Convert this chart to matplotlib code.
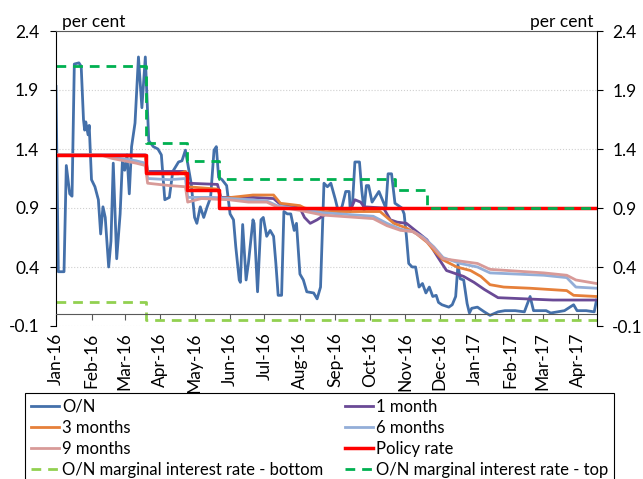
import pandas as pd
import matplotlib
matplotlib.use("Agg")
import matplotlib.pyplot as plt
import matplotlib.dates as mdates

plt.rcParams['font.family'] = ['Lato', 'DejaVu Sans']

# overnight rate
on_dates = ['2016-01-04', '2016-01-06', '2016-01-11', '2016-01-13', '2016-01-15', '2016-01-16', '2016-01-18',
            '2016-01-20', '2016-01-24', '2016-01-26', '2016-01-28', '2016-01-29', '2016-01-30', '2016-02-01',
            '2016-02-02', '2016-02-04', '2016-02-07', '2016-02-10', '2016-02-12', '2016-02-14', '2016-02-16',
            '2016-02-19', '2016-02-21', '2016-02-23', '2016-02-26', '2016-02-29', '2016-03-02', '2016-03-04',
            '2016-03-06', '2016-03-08', '2016-03-10', '2016-03-13', '2016-03-16', '2016-03-19', '2016-03-22',
            '2016-03-25', '2016-03-29', '2016-04-02', '2016-04-05', '2016-04-08', '2016-04-12', '2016-04-15',
            '2016-04-20', '2016-04-23', '2016-04-26', '2016-05-01', '2016-05-04', '2016-05-06', '2016-05-09',
            '2016-05-12', '2016-05-15', '2016-05-18', '2016-05-21', '2016-05-23', '2016-05-25', '2016-05-28',
            '2016-06-01', '2016-06-04', '2016-06-07', '2016-06-09', '2016-06-12', '2016-06-13', '2016-06-15',
            '2016-06-18', '2016-06-20', '2016-06-24', '2016-06-25', '2016-06-28', '2016-07-01', '2016-07-03',
            '2016-07-06', '2016-07-09', '2016-07-12', '2016-07-14', '2016-07-16', '2016-07-19', '2016-07-21',
            '2016-07-24', '2016-07-27', '2016-07-30', '2016-08-01', '2016-08-04', '2016-08-07', '2016-08-10',
            '2016-08-16', '2016-08-19', '2016-08-22', '2016-08-25', '2016-08-28', '2016-08-31', '2016-09-04',
            '2016-09-07', '2016-09-10', '2016-09-13', '2016-09-16', '2016-09-17', '2016-09-19', '2016-09-21',
            '2016-09-25', '2016-09-27', '2016-09-29', '2016-10-01', '2016-10-03', '2016-10-06', '2016-10-12',
            '2016-10-15', '2016-10-18', '2016-10-20', '2016-10-23', '2016-10-26', '2016-11-01', '2016-11-03',
            '2016-11-05', '2016-11-07', '2016-11-10', '2016-11-13', '2016-11-16', '2016-11-19', '2016-11-22',
            '2016-11-25', '2016-11-28', '2016-12-01', '2016-12-03', '2016-12-06', '2016-12-12', '2016-12-15',
            '2016-12-18', '2016-12-20', '2016-12-22', '2016-12-25', '2016-12-28', '2016-12-30', '2017-01-01',
            '2017-01-06', '2017-01-12', '2017-01-17', '2017-01-24', '2017-01-30', '2017-02-08', '2017-02-16',
            '2017-02-21', '2017-02-24', '2017-03-07', '2017-03-11', '2017-03-23', '2017-03-31', '2017-04-03',
            '2017-04-11', '2017-04-18', '2017-04-20']
on_values = [1.93, 0.36, 0.36, 1.26, 1.10, 1.02, 1.00,
             2.12, 2.13, 2.10, 1.65, 1.56, 1.63, 1.52,
             1.60, 1.14, 1.08, 0.97, 0.68, 0.91, 0.82,
             0.40, 0.62, 1.28, 0.47, 0.85, 1.30, 1.22,
             1.35, 1.02, 1.42, 1.62, 2.18, 1.75, 2.18,
             1.47, 1.42, 1.40, 1.35, 0.97, 0.99, 1.21,
             1.29, 1.30, 1.39, 1.11, 0.82, 0.77, 0.91,
             0.82, 0.91, 0.99, 1.39, 1.42, 1.16, 1.14,
             1.09, 0.85, 0.80, 0.57, 0.29, 0.27, 0.76,
             0.29, 0.43, 0.80, 0.77, 0.19, 0.80, 0.82,
             0.66, 0.71, 0.66, 0.43, 0.16, 0.16, 0.87,
             0.85, 0.85, 0.71, 0.77, 0.34, 0.29, 0.19,
             0.18, 0.13, 0.23, 1.11, 1.08, 1.11, 0.97,
             0.85, 0.92, 1.04, 1.04, 0.87, 0.95, 1.29,
             1.29, 1.05, 0.88, 1.09, 1.09, 0.95, 1.04,
             0.97, 0.90, 1.19, 1.19, 0.94, 0.90, 0.85,
             0.66, 0.43, 0.40, 0.40, 0.23, 0.26, 0.18,
             0.23, 0.15, 0.16, 0.10, 0.08, 0.06, 0.08,
             0.15, 0.42, 0.30, 0.29, 0.09, 0.01, 0.05,
             0.06, 0.02, -0.01, 0.02, 0.03, 0.03, 0.02,
             0.15, 0.03, 0.03, 0.01, 0.03, 0.08, 0.03,
             0.03, 0.02, 0.12]

m1_dates = ['2016-01-04', '2016-03-22', '2016-03-24', '2016-04-26', '2016-04-28', '2016-05-24', '2016-05-27',
            '2016-06-24', '2016-07-12', '2016-07-18', '2016-08-04', '2016-08-08', '2016-08-13', '2016-08-19',
            '2016-08-30', '2016-09-17', '2016-09-21', '2016-09-26', '2016-09-29', '2016-10-16', '2016-10-22',
            '2016-10-28', '2016-11-05', '2016-11-14', '2016-11-23', '2016-12-02', '2016-12-10', '2016-12-25',
            '2017-01-03', '2017-01-12', '2017-01-24', '2017-03-13', '2017-04-20']
m1_values = [1.35, 1.35, 1.21, 1.21, 1.11, 1.10, 0.99,
             0.99, 0.98, 0.93, 0.90, 0.82, 0.77, 0.80,
             0.87, 0.88, 0.97, 0.95, 0.91, 0.90, 0.80,
             0.78, 0.77, 0.70, 0.63, 0.49, 0.37, 0.32,
             0.27, 0.21, 0.14, 0.12, 0.12]

m3_dates = ['2016-01-04', '2016-03-22', '2016-03-24', '2016-04-20', '2016-04-26', '2016-04-28', '2016-05-24',
            '2016-05-27', '2016-06-24', '2016-07-12', '2016-07-18', '2016-08-04', '2016-08-08', '2016-08-24',
            '2016-10-13', '2016-10-19', '2016-10-25', '2016-11-05', '2016-11-14', '2016-11-23', '2016-11-29',
            '2016-12-07', '2016-12-19', '2016-12-31', '2017-01-09', '2017-01-17', '2017-01-29', '2017-02-21',
            '2017-03-25', '2017-03-31', '2017-04-20']
m3_values = [1.35, 1.34, 1.19, 1.19, 1.21, 1.08, 1.06,
             0.98, 1.01, 1.01, 0.94, 0.92, 0.90, 0.87,
             0.87, 0.82, 0.77, 0.73, 0.68, 0.61, 0.54,
             0.46, 0.40, 0.37, 0.32, 0.25, 0.23, 0.22,
             0.20, 0.16, 0.15]

m6_dates = ['2016-01-04', '2016-02-12', '2016-02-22', '2016-03-14', '2016-03-22', '2016-03-24', '2016-04-12',
            '2016-04-26', '2016-04-28', '2016-05-20', '2016-06-20', '2016-07-06', '2016-07-15', '2016-08-04',
            '2016-08-24', '2016-10-07', '2016-10-19', '2016-10-31', '2016-11-11', '2016-11-20', '2016-11-29',
            '2016-12-07', '2016-12-22', '2017-01-06', '2017-01-17', '2017-03-05', '2017-03-25', '2017-04-02',
            '2017-04-20']
m6_values = [1.35, 1.35, 1.33, 1.30, 1.28, 1.15, 1.14,
             1.15, 0.99, 0.99, 0.97, 0.96, 0.92, 0.89,
             0.86, 0.83, 0.77, 0.72, 0.70, 0.65, 0.57,
             0.48, 0.43, 0.40, 0.35, 0.33, 0.31, 0.23,
             0.22]

m9_dates = ['2016-01-04', '2016-02-12', '2016-02-22', '2016-03-14', '2016-03-22', '2016-03-24', '2016-04-12',
            '2016-04-26', '2016-04-28', '2016-05-10', '2016-06-03', '2016-06-20', '2016-07-06', '2016-07-15',
            '2016-08-04', '2016-08-24', '2016-10-07', '2016-10-19', '2016-10-31', '2016-11-11', '2016-11-20',
            '2016-11-29', '2016-12-07', '2016-12-22', '2017-01-06', '2017-01-17', '2017-03-05', '2017-03-25',
            '2017-04-02', '2017-04-20']
m9_values = [1.35, 1.35, 1.32, 1.28, 1.26, 1.11, 1.09,
             1.08, 0.95, 0.98, 0.97, 0.95, 0.95, 0.91,
             0.88, 0.84, 0.81, 0.75, 0.71, 0.70, 0.64,
             0.56, 0.47, 0.45, 0.43, 0.38, 0.35, 0.33,
             0.29, 0.26]

policy_dates = ['2016-01-04', '2016-03-23', '2016-04-27', '2016-05-25', '2017-04-20']
policy_values = [1.35, 1.20, 1.05, 0.90, 0.90]

bottom_dates = ['2016-01-04', '2016-03-23', '2017-04-20']
bottom_values = [0.10, -0.05, -0.05]

top_dates = ['2016-01-04', '2016-03-23', '2016-04-27', '2016-05-25', '2016-10-26', '2016-11-23', '2017-04-20']
top_values = [2.10, 1.45, 1.30, 1.15, 1.05, 0.90, 0.90]

yticks = [-0.1, 0.4, 0.9, 1.4, 1.9, 2.4]

fig = plt.figure(figsize=(6.43, 4.79), dpi=100)
ax = fig.add_axes([56 / 643, 1 - 326 / 479, 541 / 643, 295 / 479])

ax.plot(pd.to_datetime(on_dates), on_values, color='#4470aa', lw=2.0, label='O/N')
ax.plot(pd.to_datetime(m1_dates), m1_values, color='#6a4a96', lw=2.0, label='1 month')
ax.plot(pd.to_datetime(m3_dates), m3_values, color='#e6803a', lw=2.0, label='3 months')
ax.plot(pd.to_datetime(m6_dates), m6_values, color='#93aed8', lw=2.0, label='6 months')
ax.plot(pd.to_datetime(m9_dates), m9_values, color='#d89a98', lw=2.0, label='9 months')
ax.plot(pd.to_datetime(policy_dates), policy_values, color='#ff0000', lw=2.5,
        drawstyle='steps-post', label='Policy rate')
ax.plot(pd.to_datetime(bottom_dates), bottom_values, color='#92d050', lw=2.0, ls=(0, (3.5, 2.5)),
        drawstyle='steps-post', label='O/N marginal interest rate - bottom')
ax.plot(pd.to_datetime(top_dates), top_values, color='#00b050', lw=2.0, ls=(0, (3.5, 2.5)),
        drawstyle='steps-post', label='O/N marginal interest rate - top')

ax.set_xlim(pd.Timestamp('2016-01-04'), pd.Timestamp('2017-04-20 10:00'))
ax.set_ylim(-0.1, 2.4)
ax.set_yticks(yticks)
ax.set_yticklabels(['%.1f' % v for v in yticks])
ax.yaxis.grid(True, color='#d0d0d0', ls=':', lw=0.8)
ax.set_axisbelow(True)

ax.set_xticks(pd.date_range('2016-01-04', periods=16, freq=pd.DateOffset(months=1)))
ax.xaxis.set_major_formatter(mdates.DateFormatter('%b-%y'))
ax.spines['bottom'].set_position(('data', 0))
ax.spines['bottom'].set_color('#595959')
ax.spines['top'].set_color('#595959')
ax.spines['right'].set_visible(False)
ax.tick_params(axis='x', direction='out', length=4, color='#595959', labelrotation=90, pad=9, labelsize=12.5)
ax.tick_params(axis='y', direction='out', length=4, pad=8, labelsize=12.5)

ax2 = ax.twinx()
ax2.set_ylim(-0.1, 2.4)
ax2.set_yticks(yticks)
ax2.set_yticklabels(['%.1f' % v for v in yticks])
for s in ['top', 'bottom', 'left']:
    ax2.spines[s].set_visible(False)
ax2.tick_params(axis='y', direction='out', length=4, pad=7, labelsize=12.5)

ax.text(0.011, 1.004, 'per cent', transform=ax.transAxes, ha='left', va='bottom', fontsize=12.5)
ax.text(0.9926, 1.004, 'per cent', transform=ax.transAxes, ha='right', va='bottom', fontsize=12.5)

# legend reads row by row like the original, so reorder for matplotlib's column fill
handles, labels = ax.get_legend_handles_labels()
order = [0, 2, 4, 6, 1, 3, 5, 7]
leg = ax.legend([handles[i] for i in order], [labels[i] for i in order],
                loc='upper left', bbox_to_anchor=(25 / 643, 1 - 393 / 479),
                bbox_transform=fig.transFigure, ncol=2, fontsize=12,
                frameon=True, fancybox=False, edgecolor='#000000', framealpha=1,
                handlelength=1.7, handletextpad=0.2, labelspacing=0.3, borderpad=0.35,
                columnspacing=1.25, borderaxespad=0)
leg.get_frame().set_linewidth(0.8)

fig.savefig('out.png', dpi=100)
